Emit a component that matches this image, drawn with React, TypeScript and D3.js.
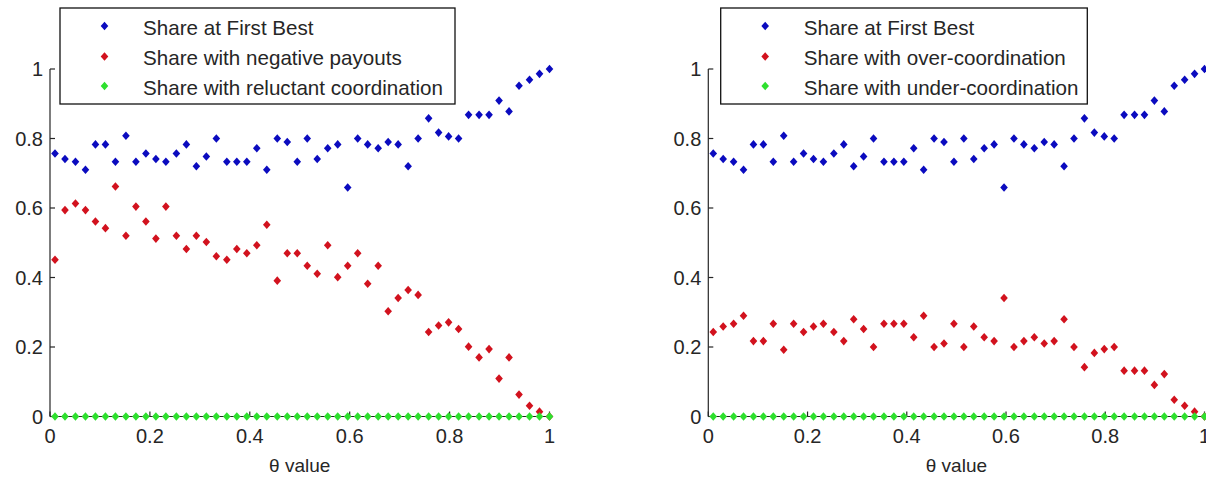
import React from "react";
import * as d3 from "d3";

// θ grid shared by both panels
const theta = [
  0.010, 0.030, 0.051, 0.071, 0.091, 0.111, 0.131, 0.152, 0.172, 0.192,
  0.212, 0.232, 0.253, 0.273, 0.293, 0.313, 0.333, 0.354, 0.374, 0.394,
  0.414, 0.434, 0.455, 0.475, 0.495, 0.515, 0.535, 0.556, 0.576, 0.596,
  0.616, 0.636, 0.657, 0.677, 0.697, 0.717, 0.737, 0.758, 0.778, 0.798,
  0.818, 0.838, 0.859, 0.879, 0.899, 0.919, 0.939, 0.960, 0.980, 1.000,
];

const shareFirstBest = [
  0.757, 0.741, 0.733, 0.710, 0.783, 0.783, 0.733, 0.808, 0.733, 0.757,
  0.741, 0.733, 0.757, 0.783, 0.720, 0.748, 0.800, 0.733, 0.733, 0.733,
  0.772, 0.710, 0.800, 0.790, 0.733, 0.800, 0.741, 0.772, 0.783, 0.659,
  0.800, 0.783, 0.772, 0.790, 0.783, 0.720, 0.800, 0.858, 0.817, 0.806,
  0.800, 0.868, 0.868, 0.868, 0.909, 0.878, 0.952, 0.969, 0.986, 1.000,
];

const shareNegativePayouts = [
  0.451, 0.594, 0.613, 0.594, 0.561, 0.542, 0.662, 0.520, 0.604, 0.561,
  0.512, 0.604, 0.520, 0.482, 0.520, 0.502, 0.461, 0.451, 0.482, 0.470,
  0.493, 0.552, 0.391, 0.470, 0.470, 0.434, 0.411, 0.493, 0.401, 0.434,
  0.470, 0.382, 0.434, 0.303, 0.341, 0.364, 0.350, 0.243, 0.262, 0.271,
  0.252, 0.201, 0.170, 0.194, 0.109, 0.170, 0.063, 0.031, 0.014, 0.000,
];

const shareReluctant = [
  0, 0, 0, 0, 0, 0, 0, 0, 0, 0,
  0, 0, 0, 0, 0, 0, 0, 0, 0, 0,
  0, 0, 0, 0, 0, 0, 0, 0, 0, 0,
  0, 0, 0, 0, 0, 0, 0, 0, 0, 0,
  0, 0, 0, 0, 0, 0, 0, 0, 0, 0,
];

const shareOverCoordination = [
  0.243, 0.259, 0.267, 0.290, 0.217, 0.217, 0.267, 0.192, 0.267, 0.243,
  0.259, 0.267, 0.243, 0.217, 0.280, 0.252, 0.200, 0.267, 0.267, 0.267,
  0.228, 0.290, 0.200, 0.210, 0.267, 0.200, 0.259, 0.228, 0.217, 0.341,
  0.200, 0.217, 0.228, 0.210, 0.217, 0.280, 0.200, 0.142, 0.183, 0.194,
  0.200, 0.132, 0.132, 0.132, 0.091, 0.122, 0.048, 0.031, 0.014, 0.000,
];

const shareUnderCoordination = [
  0, 0, 0, 0, 0, 0, 0, 0, 0, 0,
  0, 0, 0, 0, 0, 0, 0, 0, 0, 0,
  0, 0, 0, 0, 0, 0, 0, 0, 0, 0,
  0, 0, 0, 0, 0, 0, 0, 0, 0, 0,
  0, 0, 0, 0, 0, 0, 0, 0, 0, 0,
];

const leftLabels = [
  "Share at First Best",
  "Share with negative payouts",
  "Share with reluctant coordination",
];
const rightLabels = [
  "Share at First Best",
  "Share with over-coordination",
  "Share with under-coordination",
];

const xTitle = "θ value";

const COLORS = ["#0b0bbf", "#d2121e", "#2ee02e"];
const FONT = "'Liberation Sans', Arial, sans-serif";
const TEXT = "#262626";
const AXIS = "#262626";

const W = 1206;
const H = 479;

const diamond = "M0,-4.3L3.8,0L0,4.3L-3.8,0Z";
const fmt = (d: number) => String(+d.toFixed(1));

type PanelProps = {
  x0: number;
  x1: number;
  series: number[][];
  labels: string[];
  legend: { x: number; w: number };
};

function Panel({ x0, x1, series, labels, legend }: PanelProps) {
  const x = d3.scaleLinear().domain([0, 1]).range([x0, x1]);
  const y = d3.scaleLinear().domain([0, 1]).range([416.5, 69]);
  const ticks = x.ticks(5);
  const yTicks = y.ticks(5);
  const legendRows = [26, 56.5, 86];
  return (
    <g>
      {/* axes */}
      <line x1={x0} x2={x0} y1={y(0)} y2={y(1)} stroke={AXIS} strokeWidth={1.2} />
      <line x1={x0} x2={x1} y1={y(0)} y2={y(0)} stroke={AXIS} strokeWidth={1.2} />
      {yTicks.map((t) => (
        <g key={"y" + t}>
          <line x1={x0} x2={x0 + 5} y1={y(t)} y2={y(t)} stroke={AXIS} strokeWidth={1.2} />
          <text
            x={x0 - 7}
            y={y(t)}
            dy="0.36em"
            textAnchor="end"
            fontSize={20}
            fontFamily={FONT}
            fill={TEXT}
          >
            {fmt(t)}
          </text>
        </g>
      ))}
      {ticks.map((t) => (
        <g key={"x" + t}>
          <line x1={x(t)} x2={x(t)} y1={y(0)} y2={y(0) - 5} stroke={AXIS} strokeWidth={1.2} />
          <text
            x={x(t)}
            y={442.5}
            textAnchor="middle"
            fontSize={20}
            fontFamily={FONT}
            fill={TEXT}
          >
            {fmt(t)}
          </text>
        </g>
      ))}
      <text
        x={(x0 + x1) / 2}
        y={471.5}
        textAnchor="middle"
        fontSize={19}
        fontFamily={FONT}
        fill={TEXT}
      >
        {xTitle}
      </text>

      {/* markers: blue, then red, then green on top */}
      {series.map((vals, si) => (
        <g key={"s" + si} fill={COLORS[si]}>
          {vals.map((v, i) => (
            <path key={i} d={diamond} transform={`translate(${x(theta[i])},${y(v)})`} />
          ))}
        </g>
      ))}

      {/* legend */}
      <rect
        x={legend.x}
        y={8}
        width={legend.w}
        height={96}
        fill="#ffffff"
        stroke="#111"
        strokeWidth={1.3}
      />
      {labels.map((lab, i) => (
        <g key={"l" + i}>
          <path
            d={diamond}
            fill={COLORS[i]}
            transform={`translate(${legend.x + 44.5},${legendRows[i]})`}
          />
          <text
            x={legend.x + 83}
            y={legendRows[i] + 8.5}
            fontSize={20.6}
            fontFamily={FONT}
            fill={TEXT}
          >
            {lab}
          </text>
        </g>
      ))}
    </g>
  );
}

export default function App() {
  return (
    <svg
      width={W}
      height={H}
      viewBox={`0 0 ${W} ${H}`}
      style={{ position: "absolute", left: 0, top: 0, background: "#fff" }}
    >
      <rect width={W} height={H} fill="#fff" />
      <Panel
        x0={50}
        x1={549.5}
        series={[shareFirstBest, shareNegativePayouts, shareReluctant]}
        labels={leftLabels}
        legend={{ x: 60, w: 395 }}
      />
      <Panel
        x0={708.3}
        x1={1204.5}
        series={[shareFirstBest, shareOverCoordination, shareUnderCoordination]}
        labels={rightLabels}
        legend={{ x: 720.7, w: 366.6 }}
      />
    </svg>
  );
}
